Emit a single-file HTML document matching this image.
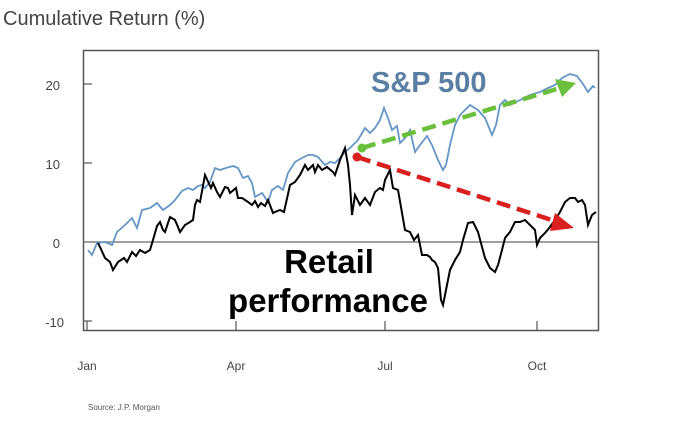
<!DOCTYPE html>
<html><head><meta charset="utf-8"><style>
html,body{margin:0;padding:0;background:#fff;width:675px;height:423px;overflow:hidden}
</style></head><body>
<svg width="675" height="423" viewBox="0 0 675 423" xmlns="http://www.w3.org/2000/svg" font-family="Liberation Sans, sans-serif">
<text x="3" y="25" font-size="20" fill="#444">Cumulative Return (%)</text>
<rect x="83.5" y="50.5" width="515" height="280" fill="none" stroke="#555" stroke-width="1.5"/>
<line x1="83" y1="242" x2="598" y2="242" stroke="#666" stroke-width="1.2"/>
<g stroke="#555" stroke-width="1.2">
<line x1="83" y1="84" x2="92" y2="84"/><line x1="83" y1="163" x2="92" y2="163"/><line x1="83" y1="321" x2="92" y2="321"/>
<line x1="87" y1="321" x2="87" y2="330"/><line x1="236" y1="321" x2="236" y2="330"/><line x1="385" y1="321" x2="385" y2="330"/><line x1="537" y1="321" x2="537" y2="330"/>
</g>
<g font-size="13" fill="#444" text-anchor="end">
<text x="60" y="90">20</text><text x="60" y="169">10</text><text x="60" y="248">0</text><text x="64" y="327">-10</text>
</g>
<g font-size="12" fill="#444" text-anchor="middle">
<text x="87" y="370">Jan</text><text x="236" y="370">Apr</text><text x="385" y="370">Jul</text><text x="537" y="370">Oct</text>
</g>
<text x="88" y="410" font-size="8" fill="#555">Source: J.P. Morgan</text>
<polyline fill="none" stroke="#6596c6" stroke-width="1.8" points="88,250 92,255 97,243 105,242 112,245 117,232 125,225 132,218 137,228 142,210 150,208 157,203 163,210 170,205 175,200 182,191 188,188 193,190 198,186 202,185 205,188 210,182 215,168 220,170 226,168 233,166 238,168 243,178 248,176 252,183 255,197 262,193 268,202 272,190 278,186 283,190 288,173 295,162 302,158 308,155 313,155 318,157 325,165 330,162 335,163 340,158 345,152 350,148 358,140 365,128 370,133 375,128 380,120 384,108 388,118 392,130 397,126 400,143 405,138 410,130 415,152 420,145 427,136 432,145 438,160 443,170 446,165 450,145 455,125 460,115 470,105 478,110 485,118 492,135 496,125 500,105 505,100 510,105 520,100 530,95 540,92 548,88 555,85 562,78 570,74 577,76 583,84 588,92 593,86 595,88"/>
<polyline fill="none" stroke="#000" stroke-width="2" points="98,243 100,247 105,258 110,262 113,270 118,262 124,258 127,262 132,252 136,256 140,250 145,253 150,250 153,240 157,226 160,222 163,230 165,232 170,217 175,220 178,227 180,232 185,225 190,222 193,220 195,205 197,200 200,202 205,175 211,188 213,183 217,192 220,197 225,187 228,188 230,193 236,188 238,198 242,198 248,202 252,205 255,201 258,207 261,203 265,206 268,200 273,213 275,212 280,210 284,212 290,185 295,182 300,175 305,165 308,170 310,168 313,165 315,172 318,165 322,170 327,167 333,172 335,175 340,160 345,148 348,165 350,185 352,215 355,195 360,205 365,198 370,205 375,192 380,188 383,190 385,180 390,170 393,188 398,190 405,230 410,232 414,240 418,235 422,255 427,255 430,257 432,260 435,262 438,268 441,300 443,305 446,290 450,270 455,260 460,252 463,240 468,223 473,222 478,232 485,258 490,268 495,272 498,265 502,250 505,238 510,232 515,222 520,222 525,220 530,225 535,230 537,245 540,238 545,233 550,227 555,220 560,212 565,202 570,198 575,198 578,202 582,200 585,205 588,225 592,215 596,212"/>
<line x1="362" y1="148" x2="560" y2="88" stroke="#6abf3c" stroke-width="4.5" stroke-dasharray="14,7"/>
<polygon points="576,83 555,79 562,97" fill="#6abf3c"/>
<circle cx="362" cy="148" r="4.5" fill="#6abf3c"/>
<line x1="357" y1="157" x2="558" y2="222" stroke="#d9201e" stroke-width="4.5" stroke-dasharray="14,7"/>
<polygon points="574,228 555,213 550,231" fill="#d9201e"/>
<circle cx="357" cy="157" r="4.5" fill="#d9201e"/>
<text x="371" y="92" font-size="29" font-weight="bold" fill="#5b7fa3">S&amp;P 500</text>
<text x="329" y="273" font-size="33" font-weight="bold" fill="#000" text-anchor="middle">Retail</text>
<text x="328" y="312" font-size="33" font-weight="bold" fill="#000" text-anchor="middle">performance</text>
</svg>
</body></html>
